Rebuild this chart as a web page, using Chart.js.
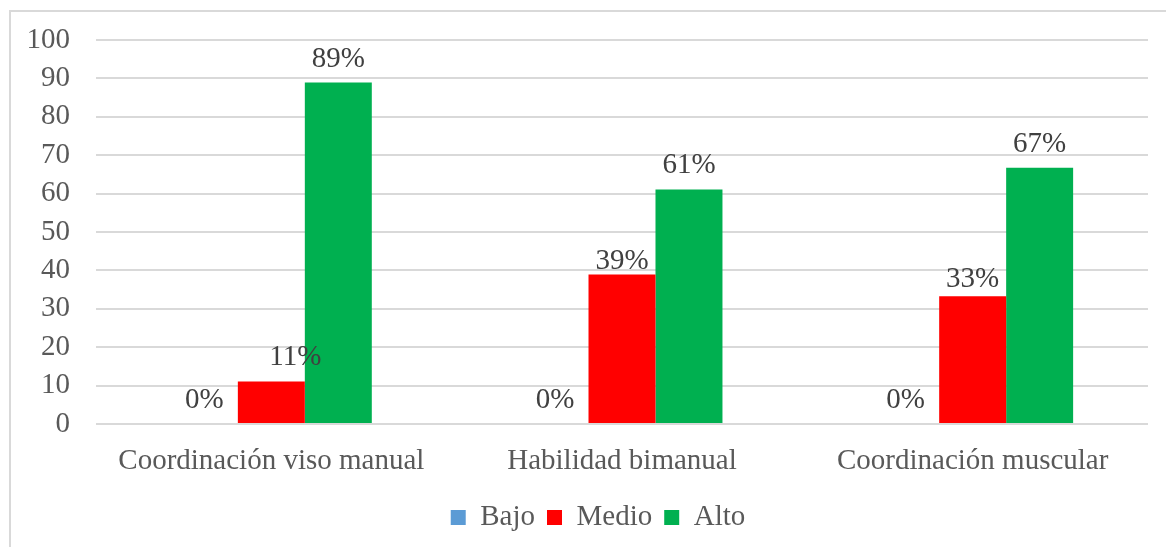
<!DOCTYPE html>
<html>
<head>
<meta charset="utf-8">
<script src="https://cdn.jsdelivr.net/npm/chart.js@4"></script>
<style>
  html, body { margin: 0; padding: 0; background: #ffffff; }
  #wrap { position: relative; width: 1166px; height: 547px; overflow: hidden; }
  #frame {
    position: absolute; left: 9px; top: 10px; width: 1300px; height: 700px;
    border-top: 2px solid #d9d9d9; border-left: 2px solid #d9d9d9; box-sizing: border-box;
  }
  canvas { position: absolute; left: 0; top: 0; }
</style>
</head>
<body>
<div id="wrap">
  <div id="frame"></div>
  <canvas id="chart" width="1166" height="547"></canvas>
</div>
<script>
// chart data
const categories = ['Coordinación viso manual', 'Habilidad bimanual', 'Coordinación muscular']
const bajo = [0, 0, 0]
const medio = [11.1, 38.9, 33.3]
const alto = [88.9, 61.1, 66.7]
const yTicks = [0, 10, 20, 30, 40, 50, 60, 70, 80, 90, 100]

const serif = "'Liberation Serif', 'Times New Roman', serif"

// labels that were nudged in the original (dataset index -> [dx, dy] per category)
const labelNudge = {1: [[24, 0], [0, 10], [0, 7]]}

const valueLabels = {
  id: 'valueLabels',
  afterDatasetsDraw(chart) {
    const ctx = chart.ctx
    ctx.save()
    ctx.font = '29px ' + serif
    ctx.fillStyle = '#404040'
    ctx.textAlign = 'center'
    ctx.textBaseline = 'alphabetic'
    chart.data.datasets.forEach((ds, i) => {
      const meta = chart.getDatasetMeta(i)
      meta.data.forEach((bar, j) => {
        const n = labelNudge[i] ? labelNudge[i][j] : [0, 0]
        ctx.fillText(Math.round(ds.data[j]) + '%', bar.x + n[0], bar.y - 16 + n[1])
      })
    })
    ctx.restore()
  }
}

// legend sits a little right of the canvas centre in the original
const legendShift = {
  id: 'legendShift',
  afterLayout(chart) {
    chart.legend.left += 19
    chart.legend.right += 19
  }
}

new Chart(document.getElementById('chart'), {
  type: 'bar',
  data: {
    labels: categories,
    datasets: [
      { label: 'Bajo', data: bajo, backgroundColor: '#5b9bd5' },
      { label: 'Medio', data: medio, backgroundColor: '#ff0000' },
      { label: 'Alto', data: alto, backgroundColor: '#00b050' }
    ]
  },
  options: {
    responsive: false,
    animation: false,
    layout: { padding: { left: 10, right: 18, top: 40, bottom: 5 } },
    datasets: {
      bar: { categoryPercentage: 0.573, barPercentage: 1.0, borderWidth: 0 }
    },
    plugins: {
      legend: {
        position: 'bottom',
        labels: {
          boxWidth: 15,
          boxHeight: 15,
          padding: 12,
          color: '#595959',
          font: { family: serif, size: 29 }
        }
      },
      tooltip: { enabled: false }
    },
    scales: {
      x: {
        grid: { display: false },
        border: { display: false },
        afterFit: scale => { scale.height = 67 },
        ticks: {
          color: '#595959',
          padding: 12,
          font: { family: serif, size: 29 },
          maxRotation: 0
        }
      },
      y: {
        min: 0,
        max: 100,
        afterBuildTicks: scale => { scale.ticks = yTicks.map(v => ({value: v})) },
        afterFit: scale => {
          scale.width = 86
          scale.paddingTop = 0
          scale.paddingBottom = 0
        },
        grid: { color: '#d9d9d9', lineWidth: 2, drawTicks: false },
        border: { display: false },
        ticks: {
          autoSkip: false,
          color: '#595959',
          padding: 26,
          font: { family: serif, size: 29 }
        }
      }
    }
  },
  plugins: [valueLabels, legendShift]
})
</script>
</body>
</html>
